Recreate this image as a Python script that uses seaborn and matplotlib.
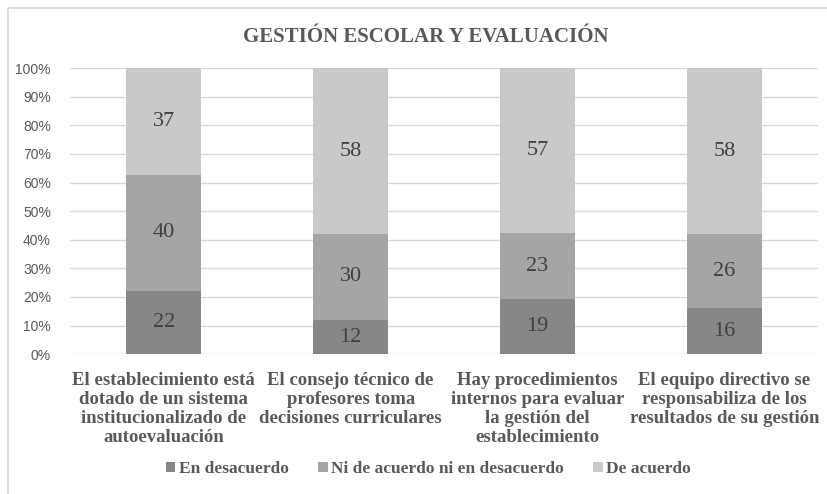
import numpy as np
import pandas as pd
import matplotlib
matplotlib.use("Agg")
import matplotlib.pyplot as plt
import seaborn as sns
from matplotlib.patches import Rectangle

# Data (counts, shown as 100% stacked)
categories = [
    "El establecimiento está\ndotado de un sistema\ninstitucionalizado de\nautoevaluación",
    "El consejo técnico de\nprofesores toma\ndecisiones curriculares",
    "Hay procedimientos\ninternos para evaluar\nla gestión del\nestablecimiento",
    "El equipo directivo se\nresponsabiliza de los\nresultados de su gestión",
]
series_names = ["En desacuerdo", "Ni de acuerdo ni en desacuerdo", "De acuerdo"]
en_desacuerdo = [22, 12, 19, 16]
ni_ni = [40, 30, 23, 26]
de_acuerdo = [37, 58, 57, 58]
colors = ["#878787", "#a5a5a5", "#c9c9c9"]

sns.set_theme(style="white")
plt.rcParams["font.family"] = ["Liberation Serif", "DejaVu Serif"]

counts = np.array([en_desacuerdo, ni_ni, de_acuerdo], dtype=float)
shares = counts / counts.sum(axis=0)

fig = plt.figure(figsize=(8.27, 4.94), dpi=100)
ax = fig.add_axes([0.085, 0.283, 0.904, 0.579])

bottom = np.zeros(len(categories))
for i, name in enumerate(series_names):
    df = pd.DataFrame({"cat": categories, "share": shares[i]})
    sns.barplot(data=df, x="cat", y="share", color=colors[i], width=0.4,
                bottom=bottom, ax=ax, label=name, saturation=1,
                edgecolor="none", linewidth=0, zorder=2)
    ax.bar_label(ax.containers[-1], labels=[str(int(v)) for v in counts[i]],
                 label_type="center", fontsize=16, color="#404040",
                 family=["Liberation Serif"])
    bottom = bottom + shares[i]

handles, labels = ax.get_legend_handles_labels()
if ax.get_legend() is not None:
    ax.get_legend().remove()

ax.set_ylim(0, 1)
ax.set_xlim(-0.5, 3.5)
ax.set_yticks(np.arange(0, 1.01, 0.1))
ax.set_yticklabels([f"{int(round(v * 100))}%" for v in np.arange(0, 1.01, 0.1)],
                   family=["Liberation Sans", "DejaVu Sans"], fontsize=10, color="#595959")
ax.set_xticks(range(len(categories)))
ax.set_xticklabels(categories, fontsize=13.5, fontweight="bold", color="#595959",
                   linespacing=1.15)
ax.tick_params(axis="x", length=0, pad=13)
ax.tick_params(axis="y", length=0, pad=14)
ax.yaxis.grid(True, color="#d9d9d9", linewidth=1, zorder=0)
ax.set_axisbelow(True)
for s in ax.spines.values():
    s.set_visible(False)
ax.set_xlabel("")
ax.set_ylabel("")

fig.text(0.515, 0.925, "GESTIÓN ESCOLAR Y EVALUACIÓN", ha="center", va="center",
         fontsize=15, fontweight="bold", color="#595959")

fig.legend(handles, labels, loc="center", bbox_to_anchor=(0.518, 0.05), ncol=3,
           frameon=False, handlelength=0.55, handleheight=0.55, handletextpad=0.2,
           columnspacing=1.7, prop={"family": "Liberation Serif", "weight": "bold", "size": 12.5},
           labelcolor="#595959")

# chart border (cropped on right and bottom)
fig.patches.append(Rectangle((8 / 827, -0.1), 1.2, 1 - 8 / 494 + 0.1, transform=fig.transFigure,
                             fill=False, edgecolor="#d9d9d9", linewidth=1.2))

fig.savefig("out.png", dpi=100)
